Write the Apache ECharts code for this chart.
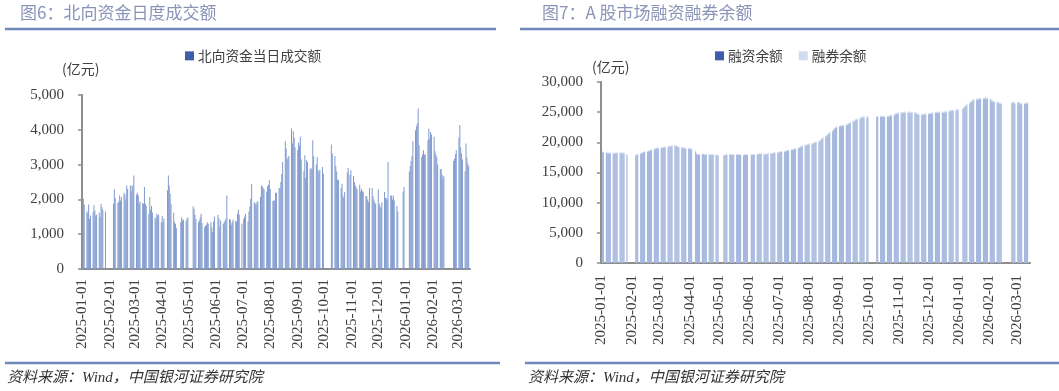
<!DOCTYPE html>
<html><head><meta charset="utf-8">
<script src="https://cdn.jsdelivr.net/npm/echarts@6/dist/echarts.min.js"></script>
<style>html,body{margin:0;padding:0;background:#fff}#c{width:1059px;height:391px}</style>
</head><body><div id="c"></div>
<script>
// ---- text ----
const titleLeft = '图6：北向资金日度成交额';
const titleRight = '图7：A 股市场融资融券余额';
const unitLabel = '(亿元)';
const sourceText = '资料来源：Wind，中国银河证券研究院';
const nbName = '北向资金当日成交额';
const finName = '融资余额';
const shortName = '融券余额';

// ---- calendar (categories) ----
const axisStart = '2025-01-01';
const axisEnd = '2026-03-14';
const nbLastDay = '2026-03-13';
const marginLastDay = '2026-03-12';
const exchangeHolidays = ['2025-01-01','2025-01-28','2025-01-29','2025-01-30','2025-01-31','2025-02-03','2025-02-04',
  '2025-04-04','2025-05-01','2025-05-02','2025-05-05','2025-06-02',
  '2025-10-01','2025-10-02','2025-10-03','2025-10-06','2025-10-07','2025-10-08',
  '2026-01-01','2026-01-02','2026-02-16','2026-02-17','2026-02-18','2026-02-19','2026-02-20','2026-02-23'];
const nbExtraClosed = ['2025-04-18','2025-04-21','2025-07-01','2025-10-29','2025-12-24','2025-12-25','2025-12-26','2025-12-31'];

// ---- axis ticks ----
const leftYMax = 5000, leftYStep = 1000;
const rightYMax = 30000, rightYStep = 5000;

// ---- 北向资金当日成交额 (亿元), one value per northbound trading day ----
const nbTurnover = [
  // 2025-01
  2020,1850,1660,1600,1850,1440,1540,1620,1830,1680,1540,1560,1615,1490,1870,1780,1700,1650,
  // 2025-02
  1875,2290,2040,1900,1940,2115,1970,2060,2190,2135,2000,2400,2300,2400,2230,2400,2380,2690,
  // 2025-03
  2135,2190,2115,1875,1940,1900,1875,2355,1875,1810,1585,2070,1710,1810,1620,1480,1440,1585,1540,1560,1345,
  // 2025-04
  1520,1345,1450,2260,2690,2400,2165,1865,1615,1345,1300,1175,1345,1490,1395,1420,1375,1440,1490,
  // 2025-05
  1800,1730,1560,1440,1345,1400,1490,1585,1325,1200,1240,1270,1345,1300,1345,1200,1060,1365,1510,
  // 2025-06
  1560,1450,1220,1395,1300,1350,1395,1460,2115,1440,1415,1270,1340,1415,1380,1365,1585,1700,1560,1300,
  // 2025-07
  1440,1500,1585,1365,1655,1800,2020,2440,1920,1880,1845,1920,1950,2070,2400,2380,2330,2290,2230,2380,2420,2550,
  // 2025-08
  2300,1960,1960,1970,2190,2190,2330,2330,2500,2740,3075,3670,3460,3150,3200,3250,4040,3605,3960,3770,3500,
  // 2025-09
  3415,3635,3550,3800,3150,2810,3270,2615,3125,3075,2865,2900,2865,3700,3250,3000,3220,2835,2770,2850,2930,2740,
  // 2025-10
  3575,3320,3250,2960,2800,2575,2550,2330,2450,2115,2050,2210,2770,2900,2700,2835,
  // 2025-11
  2670,2500,2400,2350,2290,2420,2230,2300,2230,2230,2095,2095,2000,1920,2330,2330,2100,2000,1920,1875,
  // 2025-12
  2290,1875,1800,1750,1920,2210,2040,2040,2000,3075,2115,2115,2000,2115,1970,1810,1655,2230,2355,
  // 2026-01
  2800,2960,3100,3250,3670,3990,4100,4180,4615,3560,3220,3300,3415,3290,3290,3700,4040,3750,3940,3865,
  // 2026-02
  3800,3385,3300,3220,3000,2865,2865,2710,2595,2670,3100,3170,3300,3415,
  // 2026-03
  3770,4135,3500,3320,3150,2810,3605,3200,3030,2960
];

// ---- 融资余额 (亿元), one value per A-share trading day ----
const marginFinancing = [
  // 2025-01
  18400,18300,18250,18200,18180,18150,18170,18160,18150,18200,18180,18170,18200,18220,18200,18180,18150,17900,
  // 2025-02
  17800,17900,18000,18100,18200,18280,18350,18400,18440,18500,18600,18650,18720,18800,18900,19000,19000,18950,
  // 2025-03
  19000,19050,19100,19160,19150,19200,19270,19300,19350,19380,19400,19380,19300,19250,19160,19100,19050,19000,19000,18950,18950,
  // 2025-04
  18950,18900,18830,18500,18060,17950,17950,18000,18000,18050,18000,17950,17950,17900,17950,17900,17900,17900,17850,17850,17800,
  // 2025-05
  17800,17850,17900,17900,17950,17950,17900,17900,17900,17950,17950,17900,17900,17900,17850,17900,17900,17900,17900,
  // 2025-06
  17900,17900,17950,17950,18000,18000,18050,18050,18060,18000,18000,18000,18050,18060,18060,18100,18150,18200,18250,18280,
  // 2025-07
  18300,18350,18400,18420,18440,18500,18550,18600,18650,18700,18720,18800,18850,18950,19000,19110,19200,19300,19350,19450,19500,19550,19600,
  // 2025-08
  19650,19700,19750,19830,19900,20000,20100,20200,20380,20500,20700,20900,21100,21200,21400,21600,21800,22030,22200,22400,22500,
  // 2025-09
  22600,22700,22650,22700,22750,22800,22900,23000,23100,23250,23350,23450,23600,23700,23800,23900,24000,24100,24130,24130,24150,24130,
  // 2025-10
  24200,24240,24250,24240,24200,24200,24150,24200,24240,24300,24350,24400,24500,24600,24700,24750,24800,
  // 2025-11
  24800,24850,24850,24900,24900,24900,24950,24900,24900,24850,24800,24800,24700,24600,24520,24500,24520,24550,24600,24650,
  // 2025-12
  24650,24680,24700,24750,24800,24850,24900,24900,24900,24920,24900,24900,24950,25000,25050,25100,25150,25200,25230,25250,25280,25300,25340,
  // 2026-01
  25500,25700,25890,26000,26200,26400,26600,26720,26900,27000,27050,27100,27100,27150,27160,27200,27250,27270,27250,27200,
  // 2026-02
  27100,26900,26720,26700,26650,26600,26500,26440,26400,26350,26440,26550,26500,26400,
  // 2026-03
  26500,26550,26450,26330,26300,26350,26400,26440,26450
];

// ---- 融券余额 (亿元), one value per A-share trading day ----
const marginShort = [
  // 2025-01
  128,127,126,126,125,125,124,124,125,126,125,125,126,127,127,126,126,125,
  // 2025-02
  125,126,127,128,129,130,131,131,132,133,134,135,136,136,137,138,138,137,
  // 2025-03
  137,138,139,140,141,141,142,143,143,144,144,143,142,141,140,139,138,137,136,135,135,
  // 2025-04
  134,133,132,125,120,118,117,117,116,116,116,115,115,115,114,114,114,113,113,113,112,
  // 2025-05
  112,112,113,113,114,114,114,115,115,115,115,115,114,114,114,114,114,114,114,
  // 2025-06
  114,114,115,115,115,116,116,116,117,117,117,117,118,118,118,118,119,119,119,120,
  // 2025-07
  120,121,121,122,122,123,123,124,124,125,125,126,126,127,128,129,130,131,132,133,134,135,136,
  // 2025-08
  136,137,138,139,140,141,142,143,144,145,146,148,150,152,154,156,158,160,162,163,164,
  // 2025-09
  164,165,165,166,166,167,167,168,168,169,170,170,171,171,172,172,173,173,174,174,175,175,
  // 2025-10
  175,176,176,175,175,174,174,175,175,176,176,177,177,178,178,179,179,
  // 2025-11
  180,180,181,181,181,182,182,182,181,181,180,180,179,178,177,176,176,176,177,177,
  // 2025-12
  177,177,178,178,178,179,179,179,180,180,180,180,181,181,181,182,182,182,183,183,183,184,184,
  // 2026-01
  185,186,187,188,189,190,191,192,193,193,194,194,195,195,195,196,196,196,196,195,
  // 2026-02
  195,194,193,192,191,190,189,188,187,186,186,187,187,188,
  // 2026-03
  188,188,187,187,186,186,186,185,185
];

// ---- build categories and aligned data ----
function parseUTC(s){ return Date.UTC(+s.slice(0,4), +s.slice(5,7)-1, +s.slice(8,10)); }
function dayList(a,b){ const out=[]; for(let t=parseUTC(a); t<=parseUTC(b); t+=86400000){ out.push(new Date(t).toISOString().slice(0,10)); } return out; }
const dates = dayList(axisStart, axisEnd);
function alignToDays(values, closed, lastDay){
  const out = []; let k = 0;
  dates.forEach(d => {
    const wd = new Date(parseUTC(d)).getUTCDay();
    const open = wd !== 0 && wd !== 6 && closed.indexOf(d) < 0 && d <= lastDay;
    if (open && k < values.length) { out.push(values[k]); k++; } else out.push(null);
  });
  if (k !== values.length) console.warn('mismatch', k, values.length);
  return out;
}
const nbData = alignToDays(nbTurnover, exchangeHolidays.concat(nbExtraClosed), nbLastDay);
const finData = alignToDays(marginFinancing, exchangeHolidays, marginLastDay);
const shortData = alignToDays(marginShort, exchangeHolidays, marginLastDay);

const serif = '"Liberation Serif","Noto Sans CJK SC",serif';
const cjk = '"Noto Sans CJK SC",sans-serif';
const axisGray = '#8e8e8e';
const labelColor = '#404040';
const isMonthStart = (i, v) => v.slice(8,10) === '01';

function xAxisFor(gridIndex, margin){
  return {
    type:'category', gridIndex, data: dates, boundaryGap: true,
    axisLine:{ lineStyle:{ color: axisGray, width: 2 } },
    axisTick:{ alignWithLabel: true, interval: isMonthStart, length: 5, lineStyle:{ color: axisGray, width: 1.5 } },
    axisLabel:{ interval: isMonthStart, rotate: 90, margin, color: labelColor, fontFamily: serif, fontSize: 15 },
    splitLine:{ show:false }
  };
}
function yAxisFor(gridIndex, max, step){
  return {
    type:'value', gridIndex, min:0, max, interval: step,
    axisLine:{ show:true, lineStyle:{ color: axisGray, width: 2 } },
    axisTick:{ show:true, length: 4, lineStyle:{ color: axisGray, width: 1.5 } },
    axisLabel:{ margin: 18, color: labelColor, fontFamily: serif, fontSize: 15,
      formatter: v => v.toLocaleString('en-US') },
    splitLine:{ show:false }
  };
}

const chart = echarts.init(document.getElementById('c'), null, { renderer: 'canvas' });
chart.setOption({
  animation: false,
  backgroundColor: '#fff',
  title: [
    { text: titleLeft, left: 20, top: 4, padding: 0, textStyle:{ fontSize: 17, fontWeight: 'normal', color: '#8b94b8', fontFamily: cjk } },
    { text: titleRight, left: 542, top: 4, padding: 0, textStyle:{ fontSize: 17, fontWeight: 'normal', color: '#8b94b8', fontFamily: cjk } }
  ],
  legend: [
    { left: 185, top: 49, padding: 0, icon: 'rect', itemWidth: 9, itemHeight: 9, itemGap: 16,
      data: [{ name: nbName, itemStyle:{ color: '#3d5fa9' } }],
      textStyle:{ fontSize: 13.7, color: labelColor, fontFamily: cjk, padding:[0,0,0,-1] } },
    { left: 715, top: 49, padding: 0, icon: 'rect', itemWidth: 9, itemHeight: 9, itemGap: 16,
      data: [{ name: finName, itemStyle:{ color: '#3d5fa9' } }, { name: shortName, itemStyle:{ color: '#cfdbef' } }],
      textStyle:{ fontSize: 13.7, color: labelColor, fontFamily: cjk, padding:[0,0,0,-1] } }
  ],
  grid: [
    { left: 82, top: 95, width: 388, height: 174 },
    { left: 601, top: 82, width: 429, height: 181 }
  ],
  xAxis: [ xAxisFor(0, 10), xAxisFor(1, 12) ],
  yAxis: [ yAxisFor(0, leftYMax, leftYStep), yAxisFor(1, rightYMax, rightYStep) ],
  series: [
    { type:'bar', name: nbName, xAxisIndex:0, yAxisIndex:0, data: nbData, barWidth: 0.6,
      itemStyle:{ color:'#819bcf' } },
    { type:'bar', name: finName, xAxisIndex:1, yAxisIndex:1, stack:'margin', data: finData, barWidth: 1.2,
      itemStyle:{ color:'#a6b8de' } },
    { type:'bar', name: shortName, xAxisIndex:1, yAxisIndex:1, stack:'margin', data: shortData, barWidth: 1.2,
      itemStyle:{ color:'#cfdbef' } }
  ],
  graphic: [
    { type:'line', shape:{ x1:5, y1:29, x2:496, y2:29 }, style:{ stroke:'#6f87b9', lineWidth:2.5 } },
    { type:'line', shape:{ x1:520, y1:29, x2:1059, y2:29 }, style:{ stroke:'#6f87b9', lineWidth:2.5 } },
    { type:'line', shape:{ x1:5, y1:363, x2:500, y2:363 }, style:{ stroke:'#6f87b9', lineWidth:2.5 } },
    { type:'line', shape:{ x1:525, y1:363, x2:1059, y2:363 }, style:{ stroke:'#6f87b9', lineWidth:2.5 } },
    { type:'text', left: 62, top: 62, style:{ text: unitLabel, fontSize: 14, fontFamily: cjk, fill: labelColor } },
    { type:'text', left: 592, top: 60, style:{ text: unitLabel, fontSize: 14, fontFamily: cjk, fill: labelColor } },
    { type:'text', left: 7, top: 371, style:{ text: sourceText, fontSize: 15, fontStyle:'italic', fontFamily: serif, fill: '#333' } },
    { type:'text', left: 528, top: 371, style:{ text: sourceText, fontSize: 15, fontStyle:'italic', fontFamily: serif, fill: '#333' } }
  ]
});
</script>
</body></html>
